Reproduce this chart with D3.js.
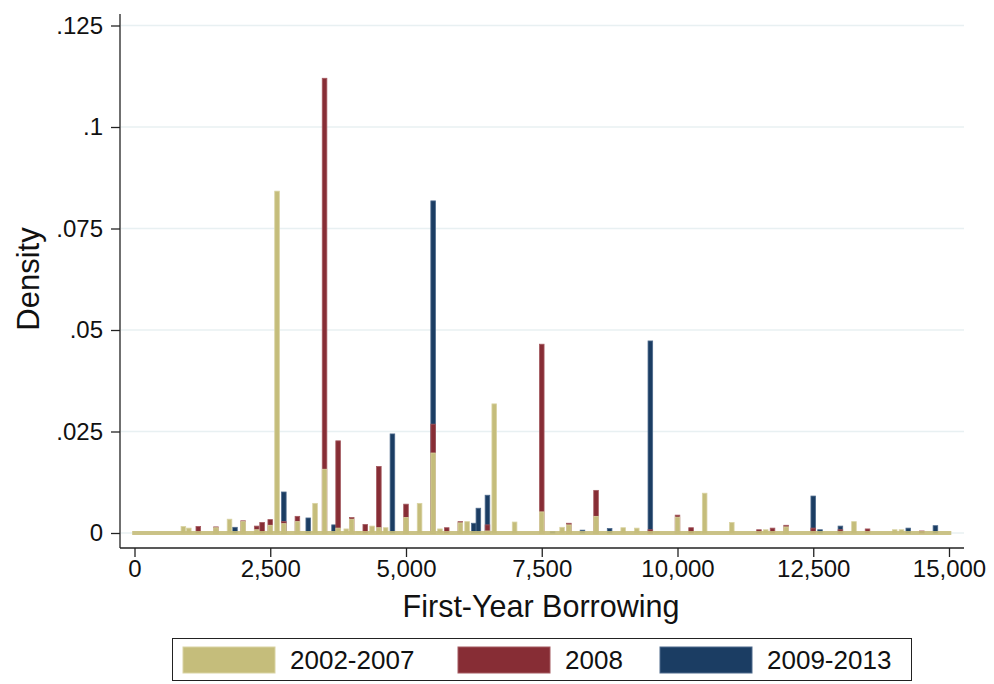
<!DOCTYPE html>
<html>
<head>
<meta charset="utf-8">
<script src="https://cdn.jsdelivr.net/npm/d3@7"></script>
<style>
  html, body { margin: 0; padding: 0; background: #fff; }
  svg { display: block; font-family: "Liberation Sans", Arial, sans-serif; }
</style>
</head>
<body>
<svg id="chart" width="994" height="684"></svg>
<script>
// First-year borrowing densities, one array per cohort: [amount, density]
const series = ["2002-2007", "2008", "2009-2013"];
const colors = ["#c5bd7b", "#872d35", "#1b3d63"];
const strokes = ["#d9d3a3", "#a45a60", "#4e6a8c"];

const cohort0207 = [
  [900, 0.0016], [1000, 0.0012], [1500, 0.0013], [1750, 0.0034], [2000, 0.0028],
  [2250, 0.0008], [2500, 0.0019], [2625, 0.0842], [2750, 0.0023], [3000, 0.0028],
  [3325, 0.0073], [3500, 0.0157], [3750, 0.0012], [3900, 0.0010], [4000, 0.0034],
  [4125, 0.0004], [4375, 0.0017], [4500, 0.0013], [4625, 0.0013], [5000, 0.0038],
  [5250, 0.0073], [5500, 0.0197], [5625, 0.0010], [6000, 0.0025], [6125, 0.0028],
  [6500, 0.0005], [6625, 0.0318], [7000, 0.0027], [7500, 0.0052], [7875, 0.0014],
  [8000, 0.0020], [8500, 0.0041], [9000, 0.0013], [9250, 0.0012], [9625, 0.0003],
  [10000, 0.0039], [10375, 0.0004], [10500, 0.0098], [11000, 0.0026], [11625, 0.0008],
  [12000, 0.0015], [13250, 0.0028], [14000, 0.0008], [14125, 0.0008]
];
const cohort2008 = [
  [1175, 0.0016], [1500, 0.0015], [2000, 0.0030], [2250, 0.0017], [2350, 0.0026],
  [2500, 0.0033], [2750, 0.0028], [3000, 0.0041], [3500, 0.1120], [3750, 0.0227],
  [4000, 0.0038], [4250, 0.0021], [4500, 0.0164], [5000, 0.0071], [5500, 0.0268],
  [5750, 0.0013], [6000, 0.0028], [6500, 0.0020], [7500, 0.0465], [8000, 0.0024],
  [8500, 0.0105], [9500, 0.0008], [10000, 0.0044], [10250, 0.0013], [11500, 0.0008],
  [11750, 0.0012], [12000, 0.0019], [12500, 0.0012], [13000, 0.0008], [13500, 0.0010],
  [14500, 0.0005]
];
const cohort0913 = [
  [1850, 0.0014], [2750, 0.0101], [3200, 0.0037], [3675, 0.0020], [4750, 0.0244],
  [5500, 0.0818], [6250, 0.0024], [6333, 0.0061], [6500, 0.0093], [7700, 0.0003],
  [8250, 0.0007], [8750, 0.0011], [9500, 0.0473], [12500, 0.0091], [12625, 0.0008],
  [13000, 0.0017], [14250, 0.0012], [14750, 0.0018]
];

const xTicks = [0, 2500, 5000, 7500, 10000, 12500, 15000];
const yTicks = [0, 0.025, 0.05, 0.075, 0.1, 0.125];
const yTickLabels = ["0", ".025", ".05", ".075", ".1", ".125"];
const barWidth = 85; // in dollars

const svg = d3.select("#chart");

const x = d3.scaleLinear().domain([0, 15000]).range([134.5, 949]);
const y = d3.scaleLinear().domain([0, 0.125]).range([533, 25.5]);

const axisX = 120, axisY = 548, plotRight = 964, plotTop = 14;
const font = "Liberation Sans, Arial, sans-serif";

// gridlines
svg.append("g").selectAll("line").data(yTicks).join("line")
  .attr("x1", axisX + 1).attr("x2", plotRight)
  .attr("y1", d => y(d)).attr("y2", d => y(d))
  .attr("stroke", "#e8f0f2").attr("stroke-width", 1.6);

// bars: later cohorts drawn underneath, earlier on top
const layers = [cohort0913, cohort2008, cohort0207];
const layerIdx = [2, 1, 0];
layers.forEach((data, k) => {
  const i = layerIdx[k];
  svg.append("g").selectAll("rect").data(data).join("rect")
    .attr("x", d => x(d[0] - barWidth / 2))
    .attr("width", d => x(d[0] + barWidth / 2) - x(d[0] - barWidth / 2))
    .attr("y", d => y(d[1]))
    .attr("height", d => y(0) - y(d[1]))
    .attr("fill", colors[i])
    .attr("stroke", strokes[i]).attr("stroke-width", 0.8);
});

// zero-density floor of the 2002-2007 cohort across the full range
svg.append("rect")
  .attr("x", x(-barWidth / 2)).attr("width", x(15000 + barWidth / 2) - x(-barWidth / 2))
  .attr("y", y(0) - 2).attr("height", 4)
  .attr("fill", colors[0]).attr("opacity", 0.9);

// y axis
const yAxis = d3.axisLeft(y).tickValues(yTicks)
  .tickFormat((d, i) => yTickLabels[i]).tickSize(9).tickSizeOuter(0);
const gy = svg.append("g").attr("transform", `translate(${axisX},0)`).call(yAxis);
gy.select(".domain").attr("d", `M0,${plotTop}V${axisY}`).attr("stroke", "#222").attr("stroke-width", 1.3);
gy.selectAll(".tick line").attr("stroke", "#222").attr("stroke-width", 1.3);
gy.selectAll(".tick text").attr("font-size", 24).attr("fill", "#111")
  .attr("font-family", font).attr("x", -17);

// x axis
const xAxis = d3.axisBottom(x).tickValues(xTicks)
  .tickFormat(d3.format(",")).tickSize(9).tickSizeOuter(0);
const gx = svg.append("g").attr("transform", `translate(0,${axisY})`).call(xAxis);
gx.select(".domain").attr("d", `M${axisX},0H${plotRight}`).attr("stroke", "#222").attr("stroke-width", 1.3);
gx.selectAll(".tick line").attr("stroke", "#222").attr("stroke-width", 1.3);
gx.selectAll(".tick text").attr("font-size", 24).attr("fill", "#111")
  .attr("font-family", font).attr("y", 12);

// axis titles
svg.append("text").attr("x", 541).attr("y", 617).attr("text-anchor", "middle")
  .attr("font-size", 30.5).attr("fill", "#111").text("First-Year Borrowing");
svg.append("text").attr("transform", "translate(39,279) rotate(-90)")
  .attr("text-anchor", "middle").attr("font-size", 31).attr("fill", "#111").text("Density");

// legend
const legend = svg.append("g");
legend.append("rect").attr("x", 172.5).attr("y", 638.5).attr("width", 739).attr("height", 42)
  .attr("fill", "#fff").attr("stroke", "#222").attr("stroke-width", 1);
const legX = [183, 458, 660];
series.forEach((s, i) => {
  legend.append("rect").attr("x", legX[i]).attr("y", 647).attr("width", 92).attr("height", 26)
    .attr("fill", colors[i]).attr("stroke", strokes[i]).attr("stroke-width", 1);
  legend.append("text").attr("x", legX[i] + 107).attr("y", 669)
    .attr("font-size", 26).attr("fill", "#111").text(s);
});
</script>
</body>
</html>
